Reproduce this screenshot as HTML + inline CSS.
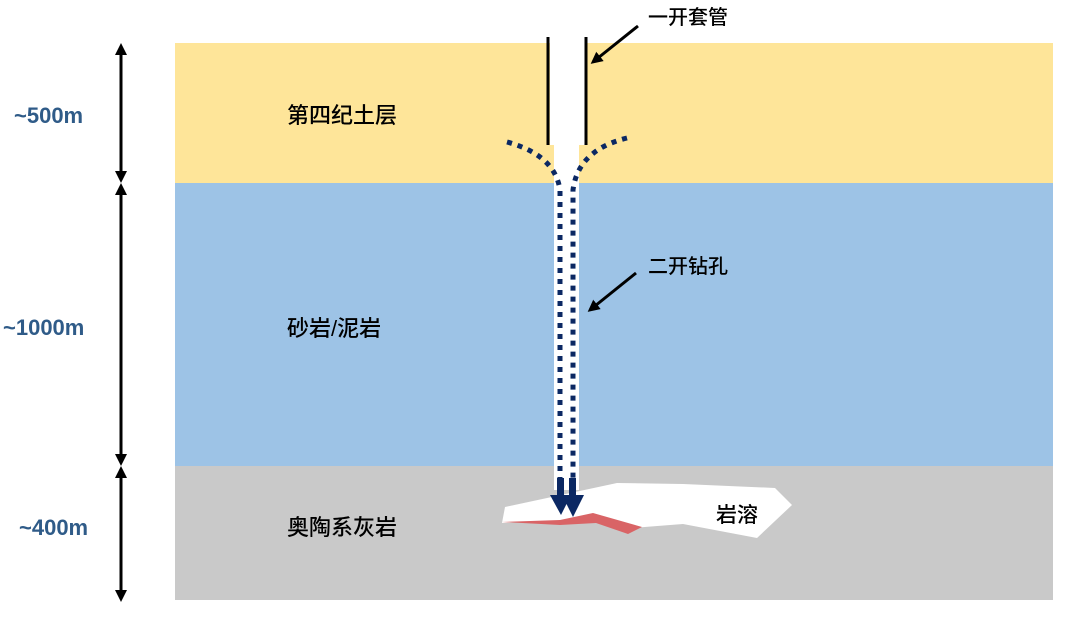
<!DOCTYPE html>
<html><head><meta charset="utf-8"><style>
body{margin:0;width:1080px;height:627px;background:#fff;overflow:hidden}
svg text{font-family:"Liberation Sans","Noto Sans CJK SC",sans-serif}
</style></head><body>
<svg width="1080" height="627" viewBox="0 0 1080 627">
<defs>
<marker id="ah" markerWidth="12" markerHeight="12" refX="9" refY="6" orient="auto-start-reverse" markerUnits="userSpaceOnUse" viewBox="0 0 12 12"><path d="M0,0 L12,6 L0,12 z" fill="#000"/></marker>
<marker id="ah2" markerWidth="12" markerHeight="12" refX="9" refY="6" orient="auto" markerUnits="userSpaceOnUse" viewBox="0 0 12 12"><path d="M0,0 L12,6 L0,12 z" fill="#000"/></marker>
</defs>
<rect x="175" y="43" width="878" height="140" fill="#fee599"/>
<rect x="175" y="183" width="878" height="283" fill="#9dc3e6"/>
<rect x="175" y="466" width="878" height="134" fill="#c9c9c9"/>
<rect x="550" y="37" width="35" height="108" fill="#fff"/>
<rect x="554" y="145" width="25" height="345" fill="#fff"/>
<line x1="548" y1="37" x2="548" y2="145" stroke="#000" stroke-width="3"/>
<line x1="586" y1="37" x2="586" y2="145" stroke="#000" stroke-width="3"/>
<polygon points="505,507 617,483 683,484 775,488 792,505 757,538 683,524 632,528 595,518 560,521 502,523" fill="#fff"/>
<polygon points="502,522 560,520 593,513 642,527 628,534 596,523 560,525" fill="#d96466"/>
<path d="M507,142 Q555,155 560,190 L560,490" fill="none" stroke="#0b2863" stroke-width="5" stroke-dasharray="5,6"/>
<path d="M627,138 Q578,150 573,190 L573,490" fill="none" stroke="#0b2863" stroke-width="5" stroke-dasharray="5,6"/>
<rect x="557" y="478" width="7" height="20" fill="#0b2863"/>
<rect x="569" y="478" width="7" height="20" fill="#0b2863"/>
<polygon points="550,495 571,495 561,515" fill="#0b2863"/>
<polygon points="562,495 584,495 573,517" fill="#0b2863"/>
<g stroke="#000" stroke-width="3">
<line x1="121" y1="46" x2="121" y2="180" marker-start="url(#ah)" marker-end="url(#ah)"/>
<line x1="121" y1="186" x2="121" y2="463" marker-start="url(#ah)" marker-end="url(#ah)"/>
<line x1="121" y1="469" x2="121" y2="599" marker-start="url(#ah)" marker-end="url(#ah)"/>
</g>
<g font-size="22" font-weight="bold" fill="#2f5b88">
<text x="14" y="123">~500m</text>
<text x="3" y="335">~1000m</text>
<text x="19" y="535">~400m</text>
</g>
<g font-size="22" fill="#000" font-weight="500">
<text x="287" y="123">第四纪土层</text>
<text x="287" y="336">砂岩/泥岩</text>
<text x="287" y="535">奥陶系灰岩</text>
<text x="716" y="522" font-size="21">岩溶</text>
<text x="648" y="24" font-size="20">一开套管</text>
<text x="648" y="273" font-size="20">二开钻孔</text>
</g>
<g stroke="#000" stroke-width="3">
<line x1="638" y1="26" x2="593" y2="62" marker-end="url(#ah2)"/>
<line x1="636" y1="273" x2="590" y2="310" marker-end="url(#ah2)"/>
</g>
</svg>
</body></html>
